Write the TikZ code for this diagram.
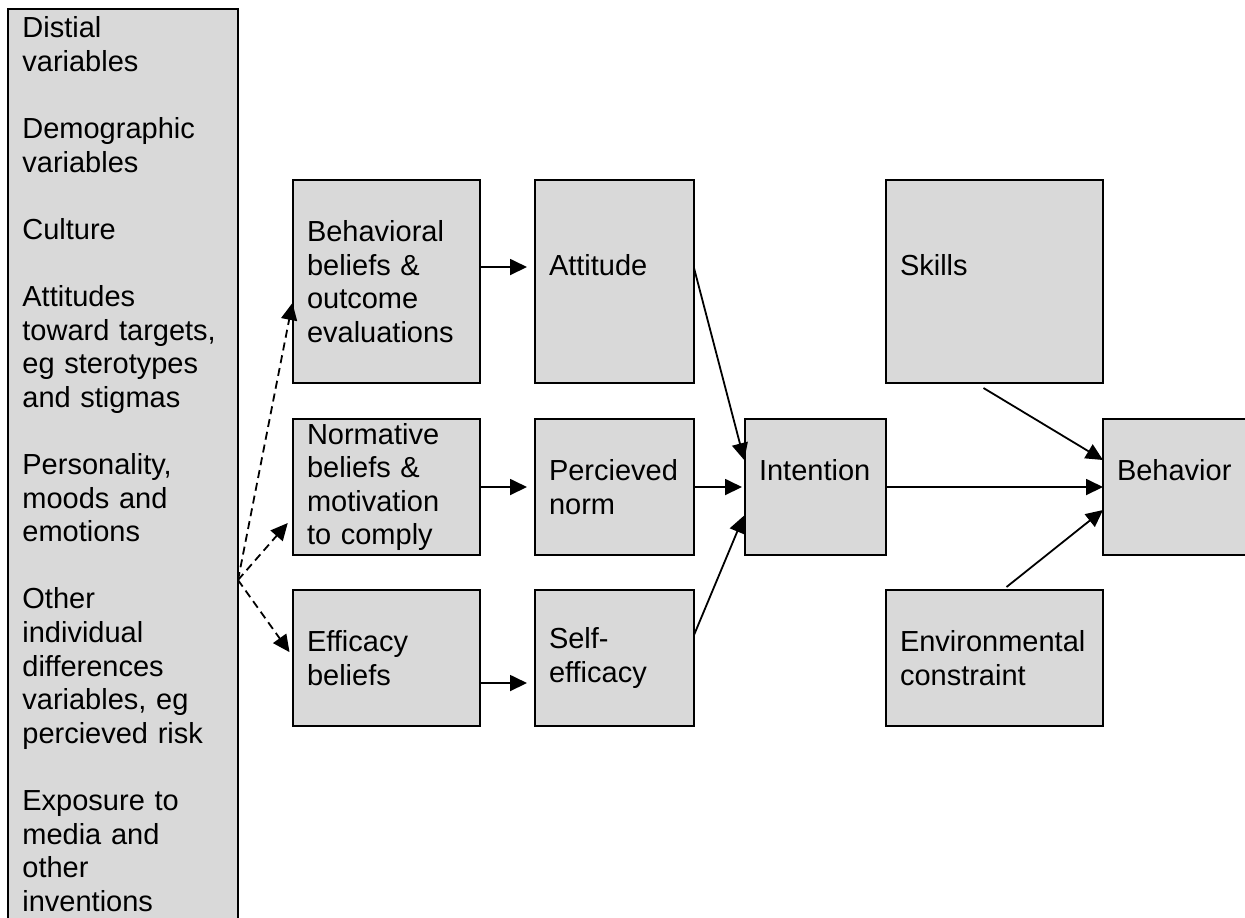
\documentclass[tikz,border=0pt]{standalone}
\usepackage{fontspec}
\setmainfont{Liberation Sans}
\usetikzlibrary{arrows.meta, positioning}
\definecolor{boxgrey}{RGB}{217,217,217}

\begin{document}
\begin{tikzpicture}[
      x=0.5pt, y=-0.5pt,
      font=\fontsize{14.5}{16.8}\selectfont,
      % Node styles
      factor/.style={
          draw, fill=boxgrey, line width=1pt, outer sep=0pt,
          inner xsep=7pt, inner ysep=0pt, align=left,
        },
      sidebar/.style={
          draw, fill=boxgrey, line width=1pt, inner sep=0pt, outer sep=0pt,
          minimum width=115pt, minimum height=465pt,
        },
      sidetext/.style={
          text width=101pt, align=left, inner xsep=7pt, inner ysep=3.6pt,
        },
      % Box sizes (columns and rows)
      col1/.style={text width=79.5pt},
      col2/.style={text width=65.5pt},
      col3/.style={text width=56.5pt},
      col4/.style={text width=94.5pt},
      col5/.style={text width=59.5pt},
      tall/.style={minimum height=101.5pt},
      short/.style={minimum height=68pt},
      % Edge styles
      link/.style={line width=0.9pt, -{Triangle[length=8.5pt,width=8pt]}},
      maybe/.style={link, dash pattern=on 4pt off 2.5pt},
    ]
    \useasboundingbox (0,0) rectangle (1245,917);
    \clip (0,0) rectangle (1245,917);

    % --- Distal variables on the left ---
    \node[sidebar, anchor=north west] (distal) at (8,9) {};
    \node[sidetext, anchor=north west] (distaltext) at (distal.north west)
    {Distial\\variables\\[16.8pt]
      Demographic\\variables\\[16.8pt]
      Culture\\[16.8pt]
      Attitudes\\toward targets,\\eg sterotypes\\and stigmas\\[16.8pt]
      Personality,\\moods and\\emotions\\[16.8pt]
      Other\\individual\\differences\\variables, eg\\percieved risk\\[16.8pt]
      Exposure to\\media and\\other\\inventions};

    % --- Beliefs and their direct determinants ---
    \node[factor, col1, tall] (behav) at (386.5,281.5)
    {Behavioral\\beliefs \&\\outcome\\evaluations};
    \node[factor, col2, tall, right=27.5pt of behav] (att) {Attitude\\ \mbox{}};

    \node[factor, col1, short] (nbel) at (386.5,487)
    {Normative\\beliefs \&\\motivation\\to comply};
    \node[factor, col2, short, right=27.5pt of nbel] (pnorm) {Percieved\\norm};
    \node[factor, col3, short, right=25.5pt of pnorm] (intent) {Intention\\ \mbox{}};

    \node[factor, col1, short] (effb) at (386.5,658) {Efficacy\\beliefs};
    \node[factor, col2, short, right=27.5pt of effb] (seff) {Self-\\efficacy};

    % --- Behavior and its moderators ---
    \node[factor, col4, tall, anchor=west] (skills) at (intent.east |- att) {Skills\\ \mbox{}};
    \node[factor, col4, short] (env) at (skills |- seff) {Environmental\\constraint};
    \node[factor, col5, short, anchor=west] (behavior) at (skills.east |- intent) {Behavior\\ \mbox{}};

    % --- Dashed links from the distal variables ---
    \coordinate (fan) at (distal.east |- 0,580);
    \draw[maybe, shorten >=1.5pt] (fan) -- (behav.west |- 0,300);
    \draw[maybe, shorten >=4pt] (fan) -- (nbel.west |- 0,517);
    \draw[maybe, shorten >=3pt] (fan) -- (effb.west |- 0,657);

    % --- Solid links ---
    \draw[link, shorten >=4pt] (behav.east |- 0,267) -- (att.west |- 0,267);
    \draw[link, shorten >=4pt] (nbel) -- (pnorm);
    \draw[link, shorten >=4pt] (effb.east |- 0,683) -- (seff.west |- 0,683);

    \draw[link, shorten >=1.5pt] (att.east |- 0,268) -- (intent.west |- 0,463);
    \draw[link, shorten >=1.5pt] (pnorm) -- (intent);
    \draw[link, shorten >=1.5pt] (seff.east |- 0,635) -- (intent.west |- 0,513);

    \draw[link] (intent) -- (behavior);
    \draw[link] ([xshift=-5.5pt, yshift=-2.5pt]skills.south) -- (behavior.west |- 0,460);
    \draw[link] ([xshift=6pt, yshift=1.5pt]env.north) -- (behavior.west |- 0,510);

\end{tikzpicture}
\end{document}
